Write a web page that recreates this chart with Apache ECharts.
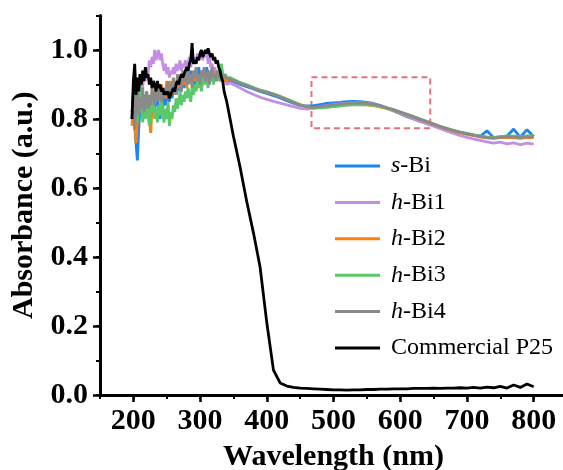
<!DOCTYPE html>
<html>
<head>
<meta charset="utf-8">
<script src="https://cdn.jsdelivr.net/npm/echarts@6/dist/echarts.min.js"></script>
<style>
html, body { margin: 0; padding: 0; background: #fff; }
#chart { width: 563px; height: 470px; }
</style>
</head>
<body>
<div id="chart"></div>
<script>
// Wavelength grid (nm): 2 nm steps in the noisy UV range, coarser afterwards
const wavelength = [
  198,200,202,204,206,208,210,212,214,216,
  218,220,222,224,226,228,230,232,234,236,
  238,240,242,244,246,248,250,252,254,256,
  258,260,262,264,266,268,270,272,274,276,
  278,280,282,284,286,288,290,292,294,296,
  298,300,302,304,306,308,310,312,314,316,
  318,320,322,324,326,328,330,332,334,336,
  338,340,
  345,350,360,370,380,390,400,410,420,430,440,450,460,470,480,490,500,510,520,530,540,550,560,570,580,590,
  600,610,620,630,640,650,660,670,680,690,700,710,720,730,740,750,760,770,780,790,800];

// Absorbance (a.u.) for each sample
const sBi = [
  0.80,0.86,0.78,0.73,0.68,0.77,0.84,0.81,0.86,0.82,
  0.87,0.83,0.85,0.81,0.86,0.84,0.88,0.83,0.85,0.87,
  0.82,0.80,0.85,0.83,0.87,0.84,0.86,0.88,0.85,0.89,
  0.86,0.88,0.90,0.87,0.89,0.91,0.88,0.90,0.92,0.89,
  0.91,0.93,0.90,0.92,0.94,0.91,0.93,0.90,0.94,0.92,
  0.95,0.92,0.93,0.91,0.94,0.92,0.95,0.93,0.91,0.94,
  0.92,0.93,0.91,0.94,0.92,0.93,0.91,0.92,0.93,0.91,
  0.92,0.91,
  0.912,0.908,0.900,0.894,0.887,0.880,0.874,0.868,0.861,0.853,0.846,0.839,0.838,0.839,0.842,0.845,0.847,0.848,0.850,0.851,0.850,0.848,0.845,0.839,0.831,0.823,
  0.815,0.807,0.800,0.793,0.787,0.781,0.776,0.771,0.766,0.761,0.757,0.753,0.750,0.766,0.746,0.748,0.750,0.771,0.747,0.769,0.749];

const hBi1 = [
  0.82,0.86,0.83,0.88,0.85,0.90,0.87,0.92,0.89,0.94,
  0.91,0.95,0.93,0.97,0.95,0.98,0.96,1.00,0.97,0.99,
  1.00,0.97,0.99,0.96,0.94,0.96,0.93,0.95,0.92,0.94,
  0.93,0.95,0.93,0.96,0.94,0.95,0.97,0.94,0.96,0.95,
  0.97,0.95,0.96,0.98,0.95,0.97,0.96,0.98,0.96,0.99,
  0.97,0.99,1.00,0.97,0.99,0.98,1.00,0.96,0.98,0.95,
  0.96,0.94,0.95,0.93,0.94,0.92,0.93,0.92,0.91,0.92,
  0.91,0.90,
  0.905,0.900,0.890,0.880,0.871,0.863,0.857,0.851,0.846,0.841,0.836,0.831,0.829,0.831,0.835,0.839,0.842,0.844,0.846,0.847,0.847,0.846,0.843,0.838,0.831,0.824,
  0.816,0.809,0.801,0.794,0.786,0.779,0.772,0.765,0.758,0.752,0.747,0.742,0.738,0.734,0.730,0.733,0.728,0.731,0.726,0.730,0.727];

const hBi2 = [
  0.78,0.84,0.80,0.73,0.79,0.85,0.82,0.87,0.83,0.86,
  0.84,0.88,0.82,0.80,0.76,0.83,0.87,0.85,0.89,0.86,
  0.88,0.85,0.90,0.87,0.89,0.86,0.91,0.88,0.90,0.91,
  0.87,0.90,0.88,0.91,0.89,0.92,0.90,0.88,0.92,0.90,
  0.92,0.89,0.93,0.91,0.92,0.90,0.93,0.91,0.94,0.92,
  0.90,0.93,0.91,0.94,0.92,0.93,0.91,0.94,0.92,0.93,
  0.91,0.93,0.92,0.94,0.92,0.93,0.91,0.92,0.93,0.92,
  0.91,0.91,
  0.917,0.913,0.904,0.898,0.890,0.883,0.878,0.872,0.865,0.857,0.849,0.841,0.835,0.832,0.833,0.835,0.837,0.839,0.841,0.842,0.842,0.841,0.839,0.835,0.830,0.825,
  0.819,0.812,0.805,0.798,0.791,0.784,0.777,0.771,0.765,0.760,0.756,0.752,0.748,0.745,0.744,0.746,0.747,0.746,0.744,0.747,0.746];

const hBi3 = [
  0.82,0.87,0.80,0.84,0.79,0.86,0.93,0.84,0.79,0.83,
  0.80,0.85,0.81,0.78,0.84,0.82,0.86,0.80,0.83,0.79,
  0.84,0.81,0.86,0.82,0.79,0.83,0.80,0.85,0.78,0.82,
  0.80,0.84,0.82,0.86,0.83,0.85,0.88,0.84,0.87,0.85,
  0.88,0.86,0.89,0.87,0.85,0.89,0.87,0.90,0.88,0.91,
  0.89,0.92,0.88,0.91,0.93,0.90,0.92,0.89,0.93,0.91,
  0.94,0.90,0.92,0.93,0.91,0.94,0.92,0.96,0.93,0.92,
  0.93,0.92,
  0.920,0.915,0.906,0.899,0.891,0.884,0.879,0.873,0.866,0.858,0.850,0.842,0.836,0.832,0.832,0.834,0.836,0.838,0.840,0.841,0.842,0.841,0.840,0.836,0.831,0.826,
  0.820,0.814,0.807,0.800,0.793,0.786,0.779,0.773,0.767,0.762,0.758,0.754,0.751,0.748,0.747,0.749,0.751,0.750,0.748,0.751,0.752];

const hBi4 = [
  0.80,0.88,0.77,0.84,0.90,0.81,0.86,0.83,0.89,0.82,
  0.85,0.88,0.83,0.87,0.84,0.89,0.86,0.84,0.88,0.85,
  0.87,0.90,0.85,0.88,0.86,0.89,0.87,0.91,0.86,0.90,
  0.88,0.92,0.89,0.87,0.93,0.90,0.92,0.88,0.94,0.91,
  0.93,0.90,0.95,0.91,0.93,0.89,0.94,0.92,0.95,0.91,
  0.93,0.90,0.94,0.92,0.95,0.91,0.93,0.94,0.90,0.93,
  0.95,0.92,0.93,0.91,0.94,0.92,0.93,0.91,0.92,0.93,
  0.92,0.915,
  0.915,0.912,0.903,0.897,0.889,0.882,0.877,0.871,0.864,0.856,0.848,0.840,0.836,0.834,0.836,0.839,0.841,0.843,0.845,0.846,0.846,0.845,0.843,0.839,0.833,0.827,
  0.820,0.813,0.806,0.799,0.792,0.785,0.778,0.772,0.766,0.761,0.757,0.753,0.749,0.746,0.745,0.747,0.749,0.748,0.746,0.749,0.748];

const p25 = [
  0.80,0.91,0.96,0.87,0.92,0.88,0.93,0.90,0.94,0.91,
  0.95,0.92,0.93,0.90,0.92,0.89,0.91,0.90,0.88,0.91,
  0.89,0.90,0.88,0.89,0.87,0.88,0.87,0.88,0.86,0.87,
  0.88,0.89,0.88,0.90,0.91,0.90,0.92,0.93,0.92,0.93,
  0.94,0.95,0.94,0.96,0.97,1.02,0.96,0.97,0.96,0.98,
  0.97,0.99,1.00,0.98,0.99,1.00,0.99,1.005,0.99,0.98,
  0.99,0.97,0.98,0.96,0.97,0.95,0.94,0.92,0.91,0.88,
  0.865,0.85,
  0.800,0.750,0.660,0.560,0.470,0.370,0.210,0.072,0.035,0.026,0.022,0.020,0.019,0.018,0.017,0.016,0.015,0.015,0.014,0.015,0.015,0.016,0.016,0.017,0.017,0.018,
  0.018,0.018,0.019,0.019,0.019,0.020,0.019,0.020,0.020,0.021,0.020,0.022,0.020,0.023,0.021,0.025,0.020,0.029,0.022,0.032,0.024];

const seriesNames = ['s-Bi', 'h-Bi1', 'h-Bi2', 'h-Bi3', 'h-Bi4', 'Commercial P25'];
const seriesValues = [sBi, hBi1, hBi2, hBi3, hBi4, p25];
const seriesColors = ['#1A86F5', '#C48FE3', '#FF7F0E', '#5BC86A', '#8A8A8A', '#000000'];

// Axis ticks
const xMajorTicks = [200, 300, 400, 500, 600, 700, 800];
const yMajorTicks = [0, 0.2, 0.4, 0.6, 0.8, 1.0];

// Highlighted plateau region: [x from, x to, y from, y to]
const zoomBox = [467, 645, 0.773, 0.921];

const FONT = '"Liberation Serif", "Times New Roman", Times, serif';
const axisFont = { fontFamily: FONT, fontSize: 30, fontWeight: 'bold', color: '#000' };

const series = seriesNames.map((name, k) => ({
  name: name,
  type: 'line',
  xAxisIndex: 0,
  yAxisIndex: 0,
  symbol: 'none',
  showSymbol: false,
  animation: false,
  color: seriesColors[k],
  lineStyle: { width: 2.8, color: seriesColors[k] },
  z: 2 + k,
  data: wavelength.map((w, i) => [w, seriesValues[k][i]])
}));

series[0].markArea = {
  silent: true,
  itemStyle: {
    color: 'rgba(0,0,0,0)',
    borderColor: '#E5707F',
    borderWidth: 2,
    borderType: [6, 4]
  },
  data: [[{ coord: [zoomBox[0], zoomBox[3]] }, { coord: [zoomBox[1], zoomBox[2]] }]]
};

const chart = echarts.init(document.getElementById('chart'));
chart.setOption({
  animation: false,
  grid: { left: 100, top: 15.5, right: -4, bottom: 75, outerBoundsMode: 'none' },
  legend: {
    orient: 'vertical',
    left: 335,
    top: 154,
    padding: 0,
    icon: 'rect',
    itemWidth: 45,
    itemHeight: 3,
    itemGap: 12.4,
    data: seriesNames,
    formatter: function (name) {
      const m = name.match(/^([sh])-(.*)$/);
      return m ? '{it|' + m[1] + '}{rm|-' + m[2] + '}' : '{rm|' + name + '}';
    },
    textStyle: {
      fontFamily: FONT,
      fontSize: 24,
      color: '#000',
      padding: [0, 0, 0, 6],
      rich: {
        it: { fontFamily: FONT, fontSize: 24, fontStyle: 'italic', color: '#000' },
        rm: { fontFamily: FONT, fontSize: 24, color: '#000' }
      }
    }
  },
  xAxis: [
    {
      type: 'value', min: 150, max: 850, interval: 50, position: 'bottom',
      axisLine: { lineStyle: { color: '#000', width: 3 } },
      axisTick: { inside: false, length: 4, lineStyle: { color: '#000', width: 2 } },
      axisLabel: Object.assign({ customValues: xMajorTicks, margin: 11 }, axisFont),
      splitLine: { show: false },
      name: 'Wavelength (nm)', nameLocation: 'middle', nameGap: 47,
      nameTextStyle: axisFont
    },
    {
      type: 'value', min: 150, max: 850, position: 'bottom',
      axisLine: { show: false },
      axisTick: { customValues: xMajorTicks, length: 7, lineStyle: { color: '#000', width: 2.5 } },
      axisLabel: { show: false },
      splitLine: { show: false }
    },
    {
      type: 'value', min: 150, max: 850, position: 'top',
      axisLine: { lineStyle: { color: '#000', width: 3 } },
      axisTick: { show: false }, axisLabel: { show: false }, splitLine: { show: false }
    }
  ],
  yAxis: [
    {
      type: 'value', min: 0, max: 1.1, interval: 0.1, position: 'left',
      axisLine: { lineStyle: { color: '#000', width: 3 } },
      axisTick: { inside: false, length: 4, lineStyle: { color: '#000', width: 2 } },
      axisLabel: Object.assign({
        customValues: yMajorTicks, margin: 12,
        formatter: function (v) { return v.toFixed(1); }
      }, axisFont),
      splitLine: { show: false },
      name: 'Absorbance (a.u.)', nameLocation: 'middle', nameGap: 57,
      nameTextStyle: axisFont
    },
    {
      type: 'value', min: 0, max: 1.1, position: 'left',
      axisLine: { show: false },
      axisTick: { customValues: yMajorTicks, length: 7, lineStyle: { color: '#000', width: 2.5 } },
      axisLabel: { show: false },
      splitLine: { show: false }
    },
    {
      type: 'value', min: 0, max: 1.1, position: 'right',
      axisLine: { lineStyle: { color: '#000', width: 3 } },
      axisTick: { show: false }, axisLabel: { show: false }, splitLine: { show: false }
    }
  ],
  series: series
});
</script>
</body>
</html>
